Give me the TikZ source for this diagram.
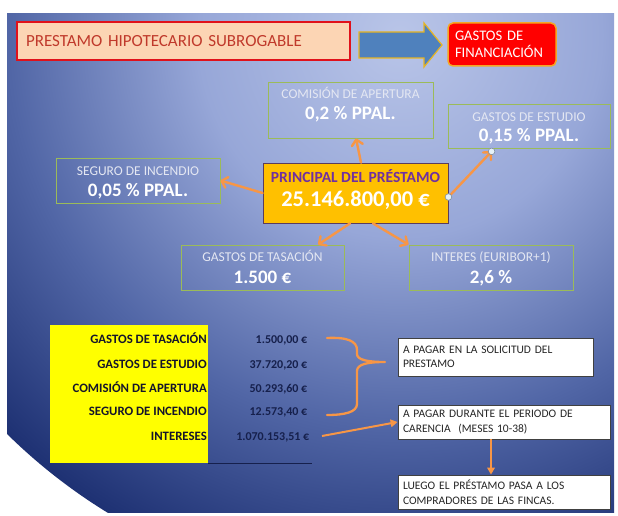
\documentclass[tikz,border=0pt]{standalone}
\usepackage{fontspec}
\setmainfont{Carlito}
\usetikzlibrary{arrows.meta,calc}

% palette
\definecolor{bgA}{HTML}{B9C5E8}
\definecolor{bgB}{HTML}{97A7D8}
\definecolor{bgC}{HTML}{5166A6}
\definecolor{bgD}{HTML}{1E3173}
\definecolor{peach}{HTML}{FCD5B4}
\definecolor{titlered}{HTML}{E0111B}
\definecolor{titletxt}{HTML}{C0392B}
\definecolor{arrowblue}{HTML}{4F81BD}
\definecolor{arrowgold}{HTML}{E6B422}
\definecolor{finred}{HTML}{FF0000}
\definecolor{fingold}{HTML}{F5A623}
\definecolor{boxgreen}{HTML}{9BBB59}
\definecolor{lbltxt}{HTML}{E4E7F2}
\definecolor{princfill}{HTML}{FFC000}
\definecolor{princedge}{HTML}{5A3C5E}
\definecolor{princtxt}{HTML}{7030A0}
\definecolor{conn}{HTML}{F79646}
\definecolor{tblyellow}{HTML}{FFFF00}
\definecolor{tbllabel}{HTML}{15152B}
\definecolor{tblvalue}{HTML}{16204C}
\definecolor{noteedge}{HTML}{404040}
\definecolor{notetxt}{HTML}{262626}
\definecolor{handlefill}{HTML}{E6F2F8}
\definecolor{handleedge}{HTML}{7F8F9F}

% slide background: bright spot near the top, dark navy towards the edges
% (the shaded path's half size corresponds to 25bp)
\pgfdeclareradialshading{slidebg}{\pgfpointorigin}{%
  color(0bp)=(bgA); color(9bp)=(bgB); color(17.5bp)=(bgC); color(25bp)=(bgD); color(50bp)=(bgD)}

\tikzset{
  gbox/.style={draw=boxgreen, line width=0.8pt, inner sep=0pt},
  lblS/.style={text=lbltxt, font=\fontsize{13.5}{16}\selectfont, anchor=base, inner sep=0pt},
  valB/.style={text=white, font=\bfseries\fontsize{19}{22}\selectfont, anchor=base, inner sep=0pt},
  rowlbl/.style={text=tbllabel, font=\bfseries\fontsize{12.8}{15}\selectfont, anchor=base east, inner sep=0pt},
  rowval/.style={text=tblvalue, font=\bfseries\fontsize{12}{14}\selectfont, anchor=base east, inner sep=0pt},
  notebox/.style={draw=noteedge, line width=0.8pt, fill=white, text=notetxt,
    font=\fontsize{11.5}{14.5}\selectfont, align=left, inner xsep=5pt, inner ysep=0pt},
  oarrow/.style={draw=conn, line width=2.4pt, line cap=round,
    -{Straight Barb[length=5.5pt,width=11pt,line cap=round,line join=round]}},
  oarrowT/.style={draw=conn, line width=2pt, -{Triangle[length=7pt,width=7.5pt]}},
  handle/.style={fill=handlefill, draw=handleedge, line width=0.6pt},
}

\begin{document}
\begin{tikzpicture}[x=1pt,y=-1pt]
\useasboundingbox (0,0) rectangle (618,516);
\fill[white] (0,0) rectangle (618,516);
\begin{scope}
  \clip (7,14) rectangle (614,512);
  \shade[shading=slidebg] (400,35) circle (560pt);
\end{scope}

% heading row
\node[draw=titlered, line width=1.6pt, fill=peach, minimum width=333pt, minimum height=38pt,
      text width=315pt, align=left, inner xsep=9pt, inner ysep=0pt, text=titletxt,
      font=\fontsize{17}{20}\selectfont] (title) at (183.5,41) {PRESTAMO HIPOTECARIO SUBROGABLE};
\node[draw=fingold, line width=1.5pt, fill=finred, rounded corners=5pt, minimum width=108pt,
      minimum height=43pt, text width=94pt, align=left, inner xsep=7pt, inner ysep=0pt,
      text=white, font=\fontsize{14.6}{17}\selectfont] (fin) at (502,44.5) {GASTOS DE\\FINANCIACIÓN};
% block arrow between the two heading boxes
\filldraw[fill=arrowblue, draw=arrowgold, line width=1.2pt, line join=miter]
  (359,32) -- (424,32) -- (424,23) -- (442,45) -- (424,67) -- (424,58) -- (359,58) -- cycle;

% cost boxes around the principal
\node[gbox, minimum width=165pt, minimum height=56pt] (comision) at (350.5,110) {};
\node[lblS] (comisionL) at (350.5,98.3) {COMISIÓN DE APERTURA};
\node[valB] (comisionV) at (350.5,120) {0,2 \% PPAL.};

\node[gbox, minimum width=162pt, minimum height=44pt] (estudio) at (529,126) {};
\node[lblS] (estudioL) at (529,121.3) {GASTOS DE ESTUDIO};
\node[valB] (estudioV) at (529,141.8) {0,15 \% PPAL.};

\node[gbox, minimum width=164pt, minimum height=45pt] (seguro) at (138,180.5) {};
\node[lblS] (seguroL) at (138,175.2) {SEGURO DE INCENDIO};
\node[valB] (seguroV) at (138,196.5) {0,05 \% PPAL.};

\node[gbox, minimum width=163pt, minimum height=45pt] (tasacion) at (262.5,267.5) {};
\node[lblS] (tasacionL) at (262.5,261.5) {GASTOS DE TASACIÓN};
\node[valB] (tasacionV) at (262.5,283.3) {1.500 €};

\node[gbox, minimum width=164pt, minimum height=45pt] (interes) at (491,267.5) {};
\node[lblS] (interesL) at (491,261.5) {INTERES (EURIBOR+1)};
\node[valB] (interesV) at (491,283.3) {2,6 \%};

% principal
\node[fill=princfill, draw=princedge, line width=0.8pt, minimum width=185pt, minimum height=60pt,
      inner sep=0pt] (princ) at (355.5,193) {};
\node[text=princtxt, font=\bfseries\fontsize{15.5}{18}\selectfont, anchor=base, inner sep=0pt]
  (princL) at (355.5,182.5) {PRINCIPAL DEL PRÉSTAMO};
\node[text=white, font=\bfseries\fontsize{22.5}{26}\selectfont, anchor=base, inner sep=0pt]
  (princV) at (355.5,206.5) {25.146.800,00 €};

% connectors from the principal
\draw[oarrow] ([xshift=5.5pt]princ.north) -- ([xshift=5.5pt]comision.south);
\draw[oarrow] (princ.west) -- (seguro.east);
\draw[oarrow] ([xshift=-5.5pt]princ.south) -- ([xshift=55.5pt]tasacion.north);
\draw[oarrow] ([xshift=17.5pt]princ.south) -- (interes.north west);
\coordinate (eStart) at ([yshift=-4pt]princ.east);
\coordinate (eEnd) at ([xshift=44pt,yshift=-3pt]estudio.south west);
\draw[oarrow] (eStart) -- (eEnd);
\draw[handle] (eStart) circle (3.3pt);
\draw[handle] (eEnd) circle (3.3pt);

% summary table
\node[fill=tblyellow, minimum width=158pt, minimum height=138pt, inner sep=0pt] (ytable) at (129,394) {};
\draw[draw=tblvalue, line width=1.2pt] (ytable.south east) -- ++(104,0);
\node[rowlbl] (r1) at (207,343.3) {GASTOS DE TASACIÓN};
\node[rowlbl] (r2) at (207,368.3) {GASTOS DE ESTUDIO};
\node[rowlbl] (r3) at (207,392.7) {COMISIÓN DE APERTURA};
\node[rowlbl] (r4) at (207,415.7) {SEGURO DE INCENDIO};
\node[rowlbl] (r5) at (207,440) {INTERESES};
\node[rowval] (v1) at (307.5,343.3) {1.500,00 €};
\node[rowval] (v2) at (307.5,368.3) {37.720,20 €};
\node[rowval] (v3) at (307.5,392.7) {50.293,60 €};
\node[rowval] (v4) at (307.5,415.7) {12.573,40 €};
\node[rowval] (v5) at (309.5,440) {1.070.153,51 €};

% notes
\node[notebox, minimum width=195pt, minimum height=38pt, text width=185pt] (pago1) at (495.5,357)
  {A PAGAR EN LA SOLICITUD DEL\\PRESTAMO};
\node[notebox, minimum width=212pt, minimum height=34pt, text width=202pt] (pago2) at (504,422)
  {A PAGAR DURANTE EL PERIODO DE\\CARENCIA\ \ (MESES 10-38)};
\node[notebox, minimum width=212pt, minimum height=34pt, text width=202pt] (pago3) at (504,492)
  {LUEGO EL PRÉSTAMO PASA A LOS\\COMPRADORES DE LAS FINCAS.};

% brace grouping the first four rows
\coordinate (braceTop) at (327,338);
\coordinate (braceTip) at (385,362);
\coordinate (braceBot) at (327,415);
\draw[draw=conn, line width=2.3pt, line cap=round, line join=round]
  (braceTop) .. controls (347,337) and (357,341) .. (357,350) -- (357,354)
  .. controls (357,360) and (368,362) .. (braceTip)
  .. controls (368,362) and (357,364) .. (357,371) -- (357,404)
  .. controls (357,412) and (345,415) .. (braceBot);

% interest row to its note, then on to the last note
\coordinate (intStart) at (322,436);
\draw[oarrowT] (intStart) -- (pago2.west);
\draw[oarrowT] ([xshift=-13pt]pago2.south) -- ([xshift=-13pt]pago3.north);
\end{tikzpicture}
\end{document}
